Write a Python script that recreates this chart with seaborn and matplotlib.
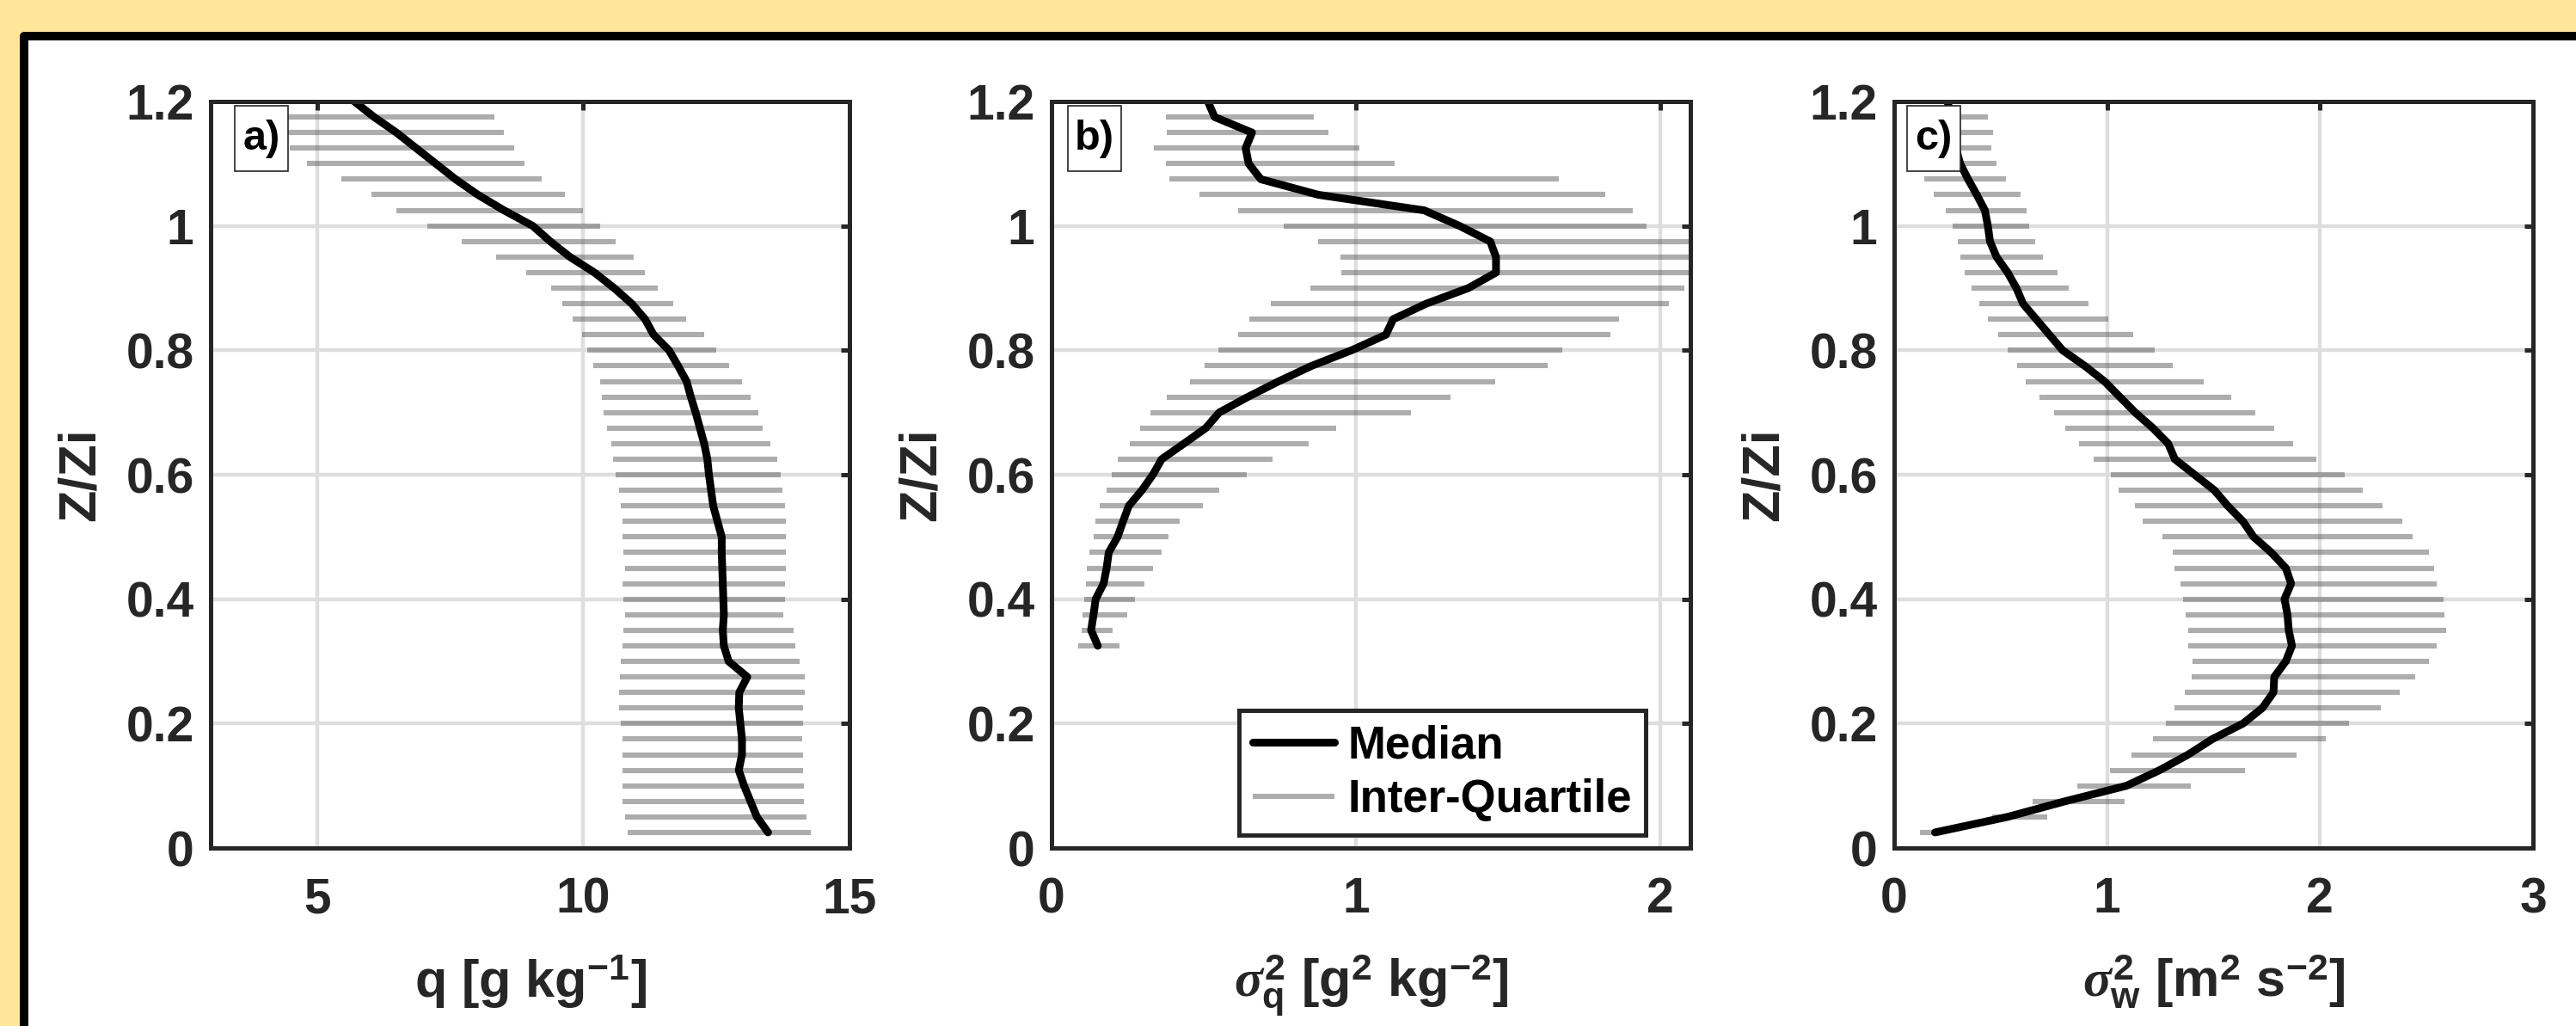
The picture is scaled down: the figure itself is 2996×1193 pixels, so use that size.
import numpy as np
import pandas as pd
import matplotlib.pyplot as plt
import seaborn as sns
from matplotlib.patches import Rectangle

nan = np.nan

# normalised height Z/Zi, top to bottom
z_levels = [1.2, 1.175, 1.15, 1.125, 1.1, 1.075, 1.05, 1.025, 1.0, 0.975, 0.95, 0.925,
            0.9, 0.875, 0.85, 0.825, 0.8, 0.775, 0.75, 0.725, 0.7, 0.675, 0.65, 0.625,
            0.6, 0.575, 0.55, 0.525, 0.5, 0.475, 0.45, 0.425, 0.4, 0.375, 0.35, 0.325,
            0.3, 0.275, 0.25, 0.225, 0.2, 0.175, 0.15, 0.125, 0.1, 0.075, 0.05, 0.025]

# a) specific humidity q [g/kg]
q_median = [5.70, 6.07, 6.49, 6.86, 7.23, 7.60, 8.02, 8.51, 9.05, 9.38, 9.75, 10.21,
            10.58, 10.91, 11.16, 11.32, 11.61, 11.78, 11.94, 12.02, 12.11, 12.19, 12.27, 12.33,
            12.36, 12.40, 12.44, 12.52, 12.60, 12.60, 12.61, 12.62, 12.63, 12.64, 12.62, 12.64,
            12.73, 13.08, 12.93, 12.92, 12.95, 12.98, 12.98, 12.92, 13.02, 13.14, 13.26, 13.47]
q_q25 = [nan, 4.45, 4.45, 4.48, 4.81, 5.45, 6.02, 6.49, 7.07, 7.71, 8.36, 8.93,
         9.39, 9.60, 9.80, 9.98, 10.08, 10.18, 10.31, 10.35, 10.38, 10.45, 10.53, 10.56,
         10.60, 10.67, 10.71, 10.73, 10.74, 10.76, 10.78, 10.74, 10.76, 10.79, 10.76, 10.74,
         10.71, 10.68, 10.67, 10.67, 10.71, 10.73, 10.74, 10.73, 10.74, 10.74, 10.79, 10.83]
q_q75 = [nan, 8.33, 8.51, 8.70, 8.89, 9.22, 9.65, 10.00, 10.31, 10.60, 10.94, 11.16,
         11.40, 11.69, 11.93, 12.27, 12.50, 12.74, 12.98, 13.14, 13.29, 13.37, 13.52, 13.64,
         13.70, 13.74, 13.79, 13.80, 13.80, 13.80, 13.81, 13.79, 13.79, 13.76, 13.95, 13.98,
         14.07, 14.16, 14.16, 14.13, 14.13, 14.11, 14.12, 14.13, 14.14, 14.14, 14.19, 14.28]

# b) humidity variance [g2/kg2]
varq_median = [0.514, 0.536, 0.659, 0.638, 0.648, 0.688, 0.877, 1.225, 1.341, 1.442, 1.461, 1.461,
               1.370, 1.232, 1.123, 1.099, 0.986, 0.855, 0.746, 0.645, 0.551, 0.507, 0.435, 0.362,
               0.333, 0.297, 0.254, 0.235, 0.217, 0.188, 0.181, 0.171, 0.145, 0.138, 0.130, 0.152,
               nan, nan, nan, nan, nan, nan, nan, nan, nan, nan, nan, nan]
varq_q25 = [nan, 0.377, 0.380, 0.336, 0.377, 0.388, 0.486, 0.612, 0.764, 0.877, 0.949, 0.952,
            0.851, 0.722, 0.649, 0.614, 0.548, 0.504, 0.454, 0.380, 0.326, 0.290, 0.258, 0.217,
            0.199, 0.181, 0.159, 0.145, 0.138, 0.123, 0.116, 0.113, 0.106, 0.101, 0.099, 0.087,
            nan, nan, nan, nan, nan, nan, nan, nan, nan, nan, nan, nan]
varq_q75 = [nan, 0.862, 0.910, 1.012, 1.128, 1.667, 1.819, 1.910, 1.957, 2.16, 2.25, 2.22,
            2.08, 2.03, 1.865, 1.838, 1.678, 1.630, 1.457, 1.312, 1.181, 0.935, 0.845, 0.725,
            0.642, 0.551, 0.497, 0.420, 0.384, 0.362, 0.333, 0.304, 0.275, 0.249, 0.200, 0.222,
            nan, nan, nan, nan, nan, nan, nan, nan, nan, nan, nan, nan]

# c) vertical velocity variance [m2/s2]
varw_median = [0.25, 0.27, 0.28, 0.29, 0.310, 0.347, 0.388, 0.426, 0.440, 0.450, 0.481, 0.533,
               0.574, 0.605, 0.667, 0.729, 0.791, 0.895, 0.988, 1.060, 1.132, 1.215, 1.287, 1.318,
               1.411, 1.504, 1.566, 1.638, 1.688, 1.771, 1.839, 1.864, 1.833, 1.847, 1.853, 1.868,
               1.839, 1.785, 1.781, 1.729, 1.638, 1.494, 1.380, 1.246, 1.091, 0.802, 0.533, 0.192]
varw_q25 = [nan, 0.24, 0.25, 0.22, 0.22, 0.140, 0.186, 0.244, 0.275, 0.300, 0.312, 0.333,
            0.364, 0.401, 0.440, 0.488, 0.533, 0.579, 0.616, 0.684, 0.750, 0.802, 0.868, 0.938,
            1.017, 1.054, 1.132, 1.165, 1.260, 1.308, 1.318, 1.345, 1.355, 1.370, 1.380, 1.380,
            1.401, 1.397, 1.366, 1.318, 1.277, 1.215, 1.116, 1.014, 0.860, 0.651, 0.461, 0.120]
varw_q75 = [nan, 0.442, 0.463, 0.457, 0.481, 0.525, 0.595, 0.620, 0.632, 0.663, 0.698, 0.769,
            0.820, 0.913, 1.004, 1.124, 1.225, 1.310, 1.455, 1.583, 1.696, 1.783, 1.872, 1.983,
            2.114, 2.200, 2.293, 2.388, 2.434, 2.512, 2.537, 2.548, 2.579, 2.585, 2.593, 2.548,
            2.510, 2.448, 2.376, 2.285, 2.134, 2.027, 1.890, 1.649, 1.395, 1.081, 0.717, 0.219]

y_ticks = [0, 0.2, 0.4, 0.6, 0.8, 1.0, 1.2]
y_ticklabels = ['0', '0.2', '0.4', '0.6', '0.8', '1', '1.2']

panel_tags = ['a)', 'b)', 'c)']
x_labels = [r'q [g kg$^{-1}$]',
            r'$\sigma^{\mathbf{2}}_{\mathbf{q}}$ [g$^{2}$ kg$^{-2}$]',
            r'$\sigma^{\mathbf{2}}_{\mathbf{w}}$ [m$^{2}$ s$^{-2}$]']
x_limits = [(3, 15), (0, 2.1), (0, 3)]
x_ticks = [[5, 10, 15], [0, 1, 2], [0, 1, 2, 3]]


def main():
    sns.set_theme(style='white')
    plt.rcParams.update({
        'font.family': ['Liberation Sans', 'DejaVu Sans'],
        'font.weight': 'bold',
        'mathtext.fontset': 'custom',
        'mathtext.rm': 'Liberation Sans:bold',
        'mathtext.bf': 'Liberation Sans:bold',
        'mathtext.it': 'Liberation Serif:italic',
        'axes.edgecolor': '#262626',
        'axes.linewidth': 3.6,
        'text.color': '#262626',
        'axes.labelcolor': '#262626',
    })

    fig = plt.figure(figsize=(29.96, 11.93), dpi=100, facecolor='#FFE699')
    frame = Rectangle((28 / 2996, -0.1), 1.2, 1.1 - 42 / 1193, transform=fig.transFigure,
                      facecolor='white', edgecolor='black', linewidth=7.2,
                      joinstyle='round', zorder=0)
    fig.add_artist(frame)

    medians = [q_median, varq_median, varw_median]
    lows = [q_q25, varq_q25, varw_q25]
    highs = [q_q75, varq_q75, varw_q75]
    lefts = [245, 1223, 2203]
    tag_offsets = [28, 19, 15]

    for i in range(3):
        ax = fig.add_axes([lefts[i] / 2996, 207 / 1193, 743 / 2996, 868 / 1193])
        ax.set_facecolor('white')

        df = pd.DataFrame({'z': z_levels, 'med': medians[i], 'lo': lows[i], 'hi': highs[i]})
        bars = df.dropna(subset=['lo', 'hi'])
        ax.hlines(bars['z'], bars['lo'], bars['hi'], colors='0.33', alpha=0.48,
                  linewidth=4.4, label='Inter-Quartile', zorder=2)
        sns.lineplot(data=df.dropna(subset=['med']), x='med', y='z', orient='y', sort=False,
                     estimator=None, color='black', linewidth=6.5, label='Median',
                     legend=False, ax=ax, zorder=3)

        ax.set_xlim(*x_limits[i])
        ax.set_ylim(0, 1.2)
        ax.set_xticks(x_ticks[i], [str(t) for t in x_ticks[i]])
        ax.set_yticks(y_ticks, y_ticklabels)
        ax.grid(True, color='#dedede', linewidth=3.2)
        ax.set_axisbelow(True)
        ax.tick_params(direction='in', length=7, width=3.6, top=True, right=True,
                       labelsize=41, color='#262626', labelcolor='#262626')
        ax.tick_params(axis='x', pad=24)
        ax.tick_params(axis='y', pad=14)
        for sp in ax.spines.values():
            sp.set_visible(True)
            sp.set_zorder(4)

        ax.set_ylabel('Z/Zi', fontsize=44, fontweight='bold')
        ax.yaxis.set_label_coords(-0.165, 0.5)
        ax.set_xlabel(x_labels[i], fontsize=44, fontweight='bold')
        ax.xaxis.set_label_coords(0.5, -0.14)

        bx = tag_offsets[i] / 743
        ax.add_patch(Rectangle((bx, 1 - 81 / 868), 62 / 743, 76 / 868, transform=ax.transAxes,
                               facecolor='white', edgecolor='#262626', linewidth=1.2, zorder=6))
        ax.text(bx + 31 / 743, 1 - 43 / 868, panel_tags[i], transform=ax.transAxes,
                ha='center', va='center', fontsize=35, fontweight='bold', color='black', zorder=7)

        if i == 1:
            leg = ax.legend(handles=[ax.lines[0], ax.collections[0]],
                            labels=['Median', 'Inter-Quartile'],
                            loc='lower right', bbox_to_anchor=(0.93, 0.017), borderaxespad=0,
                            prop={'size': 38, 'weight': 'bold'}, frameon=True, fancybox=False,
                            framealpha=1, edgecolor='#262626', handlelength=1.8,
                            handletextpad=0.3, borderpad=0.3, labelspacing=0.25)
            leg.get_frame().set_linewidth(3.6)
            for t in leg.get_texts():
                t.set_color('black')

    fig.savefig('out.png', dpi=100, facecolor=fig.get_facecolor())


if __name__ == "__main__": main()
